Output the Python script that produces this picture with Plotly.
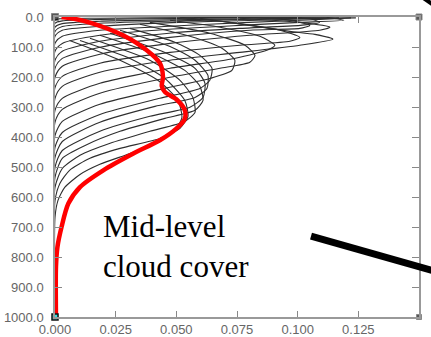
import plotly.graph_objects as go

# ---------------- data ----------------
x_ticks = [0.0, 0.025, 0.05, 0.075, 0.1, 0.125]
x_tick_text = ["0.000", "0.025", "0.050", "0.075", "0.100", "0.125"]
y_ticks = [0, 100, 200, 300, 400, 500, 600, 700, 800, 900, 1000]
y_tick_text = ["0.0", "100.0", "200.0", "300.0", "400.0", "500.0",
               "600.0", "700.0", "800.0", "900.0", "1000.0"]

# highlighted (red) profile
red_x = [0.0027, 0.008, 0.0157, 0.028, 0.0378, 0.0432, 0.0445, 0.0440, 0.0453, 0.0501,
         0.0535, 0.0535, 0.050, 0.0432, 0.0323, 0.0199, 0.0103, 0.0055, 0.0027, 0.001,
         0.0004, 0.0004]
red_y = [0, 6, 22, 61, 111, 154, 200, 230, 250, 275, 311, 339, 372, 411, 455, 511,
         567, 622, 700, 767, 833, 1000]

# grey ensemble profiles
p01_x = [0, 0, 0.002, 0.0185, 0.06, 0.1]
p01_y = [1000, 11, 6, 4, 2, 1]
p02_x = [0, 0, 0.003, 0.0185, 0.06, 0.113]
p02_y = [1000, 21, 13, 8, 4, 1]
p03_x = [0, 0, 0.003, 0.0185, 0.06, 0.124]
p03_y = [1000, 34, 22, 14, 8, 3]
p04_x = [0, 0, 0.003, 0.0185, 0.051, 0.093, 0.117]
p04_y = [1000, 48, 32, 21, 13, 6, 3]
p05_x = [0, 0, 0.003, 0.0185, 0.051, 0.084, 0.113]
p05_y = [1000, 64, 44, 31, 18, 11, 4]
p06_x = [0, 0, 0.003, 0.0185, 0.047, 0.08, 0.109, 0.122]
p06_y = [1000, 88, 64, 44, 31, 18, 8, 3]
p07_x = [0, 0, 0.003, 0.0185, 0.047, 0.076, 0.101, 0.119, 0.112]
p07_y = [1000, 114, 88, 61, 41, 28, 18, 11, 1]
p08_x = [0, 0, 0.003, 0.0185, 0.047, 0.076, 0.101, 0.109, 0.105]
p08_y = [1000, 144, 114, 81, 54, 38, 28, 18, 4]
p09_x = [0, 0, 0.003, 0.0185, 0.0474, 0.0803, 0.1009, 0.105, 0.0968, 0.0803]
p09_y = [1000, 171, 138, 101, 68, 44, 38, 28, 11, 1]
p10_x = [0, 0, 0.003, 0.0185, 0.0474, 0.0803, 0.1091, 0.1133, 0.1009, 0.0762]
p10_y = [1000, 201, 164, 124, 88, 61, 44, 34, 18, 4]
p11_x = [0, 0, 0.003, 0.0185, 0.0474, 0.0762, 0.0968, 0.1009, 0.0927, 0.0721, 0.0515]
p11_y = [1000, 235, 198, 154, 118, 94, 81, 68, 44, 18, 1]
p12_x = [0, 0, 0.003, 0.0185, 0.0474, 0.0762, 0.1009, 0.1145, 0.1071, 0.0968, 0.0803, 0.0597]
p12_y = [1000, 271, 231, 184, 144, 118, 94, 74, 58, 48, 28, 4]
p13_x = [0, 0, 0.003, 0.0185, 0.0474, 0.0721, 0.0873, 0.0906, 0.0844, 0.068, 0.0474]
p13_y = [1000, 311, 271, 221, 171, 141, 111, 94, 64, 34, 11]
p14_x = [0, 0, 0.003, 0.0185, 0.0474, 0.068, 0.0803, 0.0824, 0.0783, 0.0638, 0.0391]
p14_y = [1000, 351, 308, 254, 201, 171, 151, 128, 94, 54, 18]
p15_x = [0, 0, 0.003, 0.0185, 0.0453, 0.0638, 0.0729, 0.0741, 0.0688, 0.0556, 0.035]
p15_y = [1000, 395, 348, 291, 238, 205, 178, 144, 104, 64, 24]
p16_x = [0, 0, 0.003, 0.0185, 0.0432, 0.0597, 0.0638, 0.0647, 0.0597, 0.0494, 0.0309]
p16_y = [1000, 435, 385, 325, 271, 238, 211, 171, 128, 84, 38]
p17_x = [0, 0, 0.003, 0.0185, 0.0412, 0.0577, 0.0626, 0.063, 0.0577, 0.0474, 0.0268]
p17_y = [1000, 468, 415, 351, 298, 268, 238, 194, 144, 98, 44]
p18_x = [0, 0, 0.003, 0.0185, 0.0391, 0.0556, 0.061, 0.0618, 0.0577, 0.0453, 0.0227]
p18_y = [1000, 501, 445, 381, 331, 301, 268, 221, 171, 118, 54]
p19_x = [0, 0, 0.003, 0.0124, 0.0268, 0.0453, 0.0577, 0.061, 0.0597, 0.0535, 0.0391, 0.0185]
p19_y = [1000, 535, 471, 428, 381, 338, 311, 278, 231, 178, 118, 61]
p20_x = [0, 0, 0.003, 0.0103, 0.0227, 0.0391, 0.0535, 0.0577, 0.0568, 0.0515, 0.0391, 0.0144]
p20_y = [1000, 568, 505, 461, 421, 381, 348, 318, 268, 211, 144, 71]
p21_x = [0, 0, 0.002, 0.006, 0.0144, 0.0268, 0.0432, 0.0515, 0.0548, 0.0535, 0.0453, 0.0309, 0.0103]
p21_y = [1000, 612, 555, 511, 471, 438, 405, 371, 331, 278, 205, 138, 78]
p22_x = [0, 0, 0.0012, 0.004, 0.0103, 0.0185, 0.0309, 0.0432, 0.0494, 0.0523, 0.0507, 0.0424, 0.0268, 0.006]
p22_y = [1000, 668, 612, 568, 525, 491, 455, 415, 378, 335, 278, 211, 144, 78]

grey_profiles = [
    (p01_x, p01_y), (p02_x, p02_y), (p03_x, p03_y), (p04_x, p04_y), (p05_x, p05_y),
    (p06_x, p06_y), (p07_x, p07_y), (p08_x, p08_y), (p09_x, p09_y), (p10_x, p10_y),
    (p11_x, p11_y), (p12_x, p12_y), (p13_x, p13_y), (p14_x, p14_y), (p15_x, p15_y),
    (p16_x, p16_y), (p17_x, p17_y), (p18_x, p18_y), (p19_x, p19_y), (p20_x, p20_y),
    (p21_x, p21_y), (p22_x, p22_y),
]

label_text = "Mid-level<br>cloud cover"

# ---------------- figure ----------------
fig = go.Figure()

for gx, gy in grey_profiles:
    fig.add_trace(go.Scatter(
        x=gx, y=gy, mode="lines",
        line=dict(color="#2e2e2e", width=1.1, shape="spline", smoothing=0.6),
        hoverinfo="skip", showlegend=False))

fig.add_trace(go.Scatter(
    x=red_x, y=red_y, mode="lines",
    line=dict(color="#ff0000", width=4.5, shape="spline", smoothing=0.8),
    showlegend=False))

# corner handles
fig.add_trace(go.Scatter(
    x=[0, 0.15, 0.15], y=[0, 0, 1000], mode="markers",
    marker=dict(symbol="square", size=[7, 6, 5], color="#111111",
                line=dict(color="#555555", width=1)),
    cliponaxis=False, showlegend=False, hoverinfo="skip"))
fig.add_trace(go.Scatter(
    x=[0], y=[1000], mode="markers",
    marker=dict(symbol="square", size=6, color="#33e0e0",
                line=dict(color="#111111", width=1.5)),
    cliponaxis=False, showlegend=False, hoverinfo="skip"))

fig.add_annotation(
    x=0.127, y=0.236, xref="paper", yref="paper",
    text=label_text, showarrow=False, xanchor="left", yanchor="middle", align="left",
    font=dict(family="Liberation Serif, Times New Roman, serif", size=31, color="#000000"))

# black pointer strokes (decoration)
fig.add_shape(type="line", xref="paper", yref="paper",
              x0=0.7033, y0=0.2693, x1=1.04, y1=0.154,
              line=dict(color="#000000", width=7))
fig.add_shape(type="line", xref="paper", yref="paper",
              x0=1.01, y0=1.065, x1=1.04, y1=1.04,
              line=dict(color="#000000", width=4))

tick_font = dict(family="Liberation Sans, Arial, sans-serif", size=13, color="#666666")

fig.update_xaxes(
    range=[0, 0.15], tickvals=x_ticks, ticktext=x_tick_text,
    ticks="inside", ticklen=6, tickcolor="#888888", tickwidth=1,
    showline=True, linecolor="#999999", linewidth=1.5, mirror="ticks",
    showgrid=False, zeroline=False, tickfont=tick_font, ticklabelstandoff=0,
    automargin=False)
fig.update_yaxes(
    range=[1000, 0], tickvals=y_ticks, ticktext=y_tick_text,
    ticks="inside", ticklen=7, tickcolor="#888888", tickwidth=1,
    showline=True, linecolor="#999999", linewidth=1.5, mirror="ticks",
    showgrid=False, zeroline=False, tickfont=tick_font, ticklabelstandoff=7,
    automargin=False)

fig.update_layout(
    width=431, height=337,
    margin=dict(l=55, r=12, t=17, b=20),
    paper_bgcolor="#ffffff", plot_bgcolor="#ffffff",
    showlegend=False)

fig.write_html("out.html")
